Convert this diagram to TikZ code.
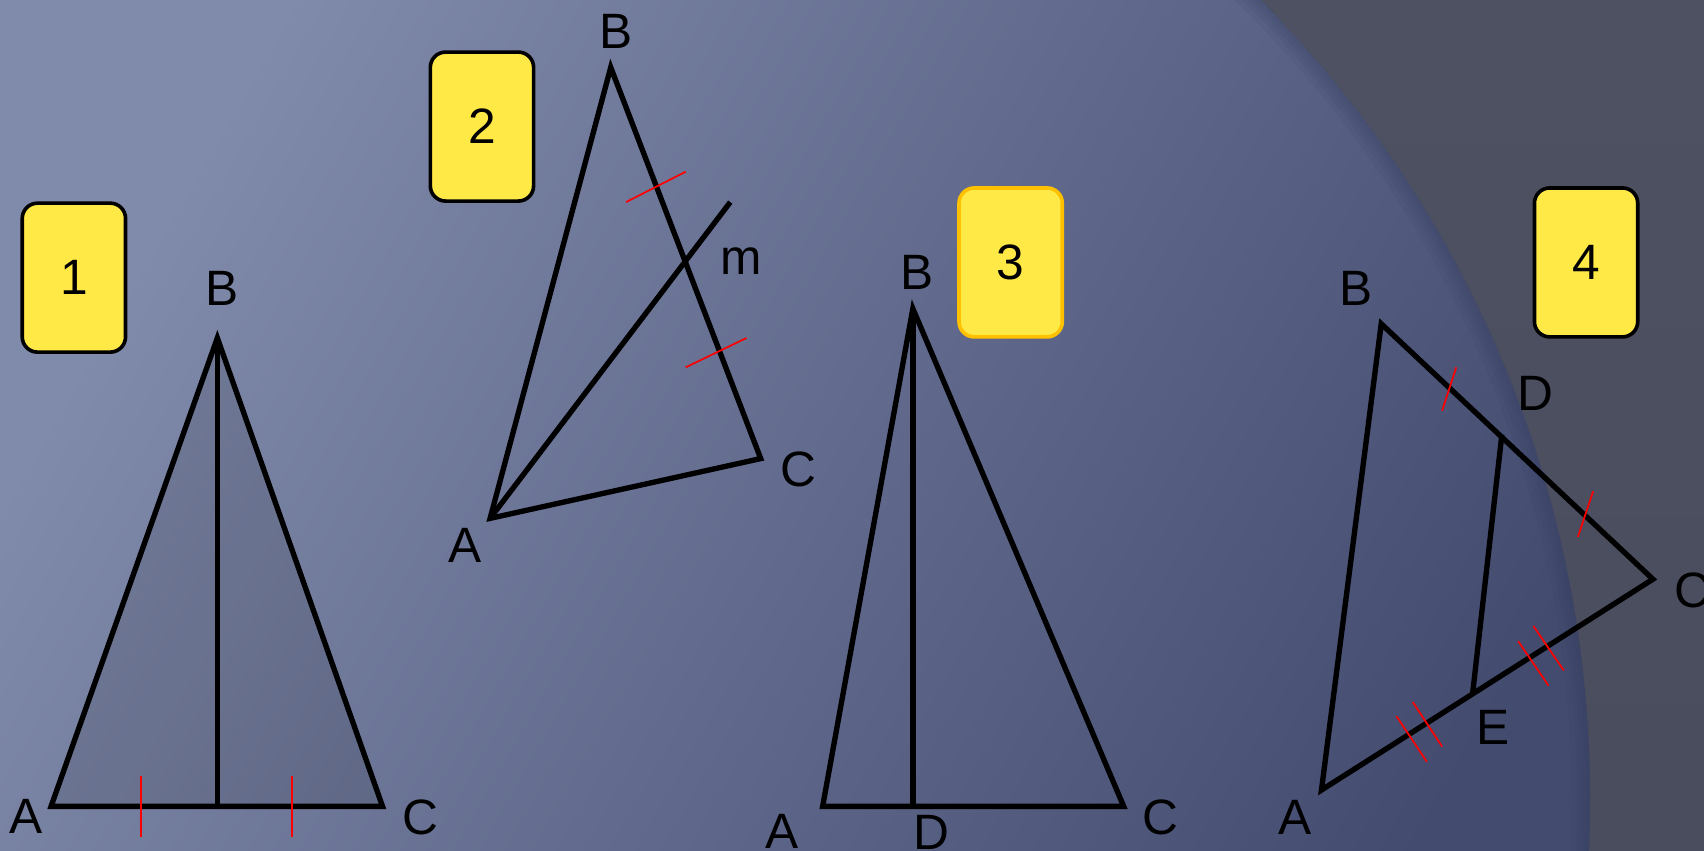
\documentclass[tikz,border=0pt]{standalone}
\usepackage{fontspec}
\setmainfont{Liberation Sans}
\usetikzlibrary{positioning}
\definecolor{bgtl}{HTML}{808AAA}
\definecolor{bgbr}{HTML}{434B6F}
\definecolor{outtop}{HTML}{4F5364}
\definecolor{outbot}{HTML}{444756}
\definecolor{rim}{HTML}{2F375A}
\definecolor{boxyellow}{HTML}{FFE946}
\definecolor{boxgold}{HTML}{FFC000}

\begin{document}
\begin{tikzpicture}[x=0.01cm,y=-0.01cm,
    seg/.style={line width=1.4pt},
    tick/.style={red,line width=0.45pt},
    numbox/.style={rectangle,rounded corners=4pt,fill=boxyellow,draw=black,line width=0.95pt,
      minimum width=0.95cm,minimum height=1.37cm,inner sep=0pt,font=\fontsize{13}{15}\selectfont},
    lbl/.style={inner sep=0pt,font=\fontsize{13}{15}\selectfont}]

      \useasboundingbox (0,0) rectangle (1568,783);
      \coordinate (O) at (421.4,734.6);
      \shade[left color=bgtl,right color=bgbr,shading angle=60] (-10,-10) rectangle (1578,793);
      \shade[top color=outtop,bottom color=outbot,even odd rule] (-10,-10) rectangle (1578,793) (O) circle (1041.7);
      \begin{scope}
        \clip (O) circle (1041.7);
        \foreach \w in {0.08,0.16,0.24,0.34}
          \draw[rim,line width=\w cm,opacity=0.09] (O) circle (1041.7);
      \end{scope}

      \node[numbox] (n1) at (68,255.5) {1};
      \node[numbox] (n2) at (443.5,116.5) {2};
      \node[numbox,draw=boxgold] (n3) at (930,241.5) {3};
      \node[numbox] (n4) at (1459.5,241.5) {4};

      \coordinate (A1) at (47,742);
      \coordinate (B1) at (200,311);
      \coordinate (C1) at (352,742);
      \coordinate (D1) at (200,742);
      \fill[black,fill opacity=0.1] (A1) -- (B1) -- (C1) -- cycle;
      \draw[seg] (A1) -- (B1) -- (C1) -- cycle;
      \draw[seg] (B1) -- (D1);
      \draw[tick] (130,714) -- (130,770);
      \draw[tick] (269,714) -- (269,770);
      \node[lbl] (lA1) at (24,751) {A};
      \node[lbl] (lB1) at (204,265) {B};
      \node[lbl] (lC1) at (387,752) {C};

      \coordinate (A2) at (451,477);
      \coordinate (B2) at (562,62);
      \coordinate (C2) at (700,422);
      \coordinate (M2) at (672,186);
      \draw[seg] (A2) -- (B2) -- (C2) -- cycle;
      \draw[seg] (A2) -- (M2);
      \draw[tick] (576,186) -- (631,158);
      \draw[tick] (631,338) -- (687,311);
      \node[lbl] (lA2) at (428,502) {A};
      \node[lbl] (lB2) at (567,29) {B};
      \node[lbl] (lC2) at (735,432) {C};
      \node[lbl] (lm2) at (682,240) {m};

      \coordinate (A3) at (757,742);
      \coordinate (B3) at (840,284);
      \coordinate (C3) at (1034,742);
      \coordinate (D3) at (840,742);
      \draw[seg] (A3) -- (B3) -- (C3) -- cycle;
      \draw[seg] (B3) -- (D3);
      \node[lbl] (lA3) at (720,765) {A};
      \node[lbl] (lB3) at (844,251) {B};
      \node[lbl] (lC3) at (1068,752) {C};
      \node[lbl] (lD3) at (857,766) {D};

      \coordinate (A4) at (1216,727);
      \coordinate (B4) at (1271,298);
      \coordinate (C4) at (1521,533);
      \coordinate (D4) at (1382,400);
      \coordinate (E4) at (1355,639);
      \draw[seg] (A4) -- (B4) -- (C4) -- cycle;
      \draw[seg] (D4) -- (E4);
      \draw[tick] (1327,378) -- (1340,338);
      \draw[tick] (1452,494) -- (1466,452);
      \draw[tick] (1285,659) -- (1313,701);
      \draw[tick] (1300,646) -- (1327,687);
      \draw[tick] (1397,590) -- (1425,631);
      \draw[tick] (1411,576) -- (1439,617);
      \node[lbl] (lA4) at (1192,752) {A};
      \node[lbl] (lB4) at (1248,265) {B};
      \node[lbl] (lC4) at (1557,543) {C};
      \node[lbl] (lD4) at (1413,362) {D};
      \node[lbl] (lE4) at (1374,669) {E};
\end{tikzpicture}
\end{document}
